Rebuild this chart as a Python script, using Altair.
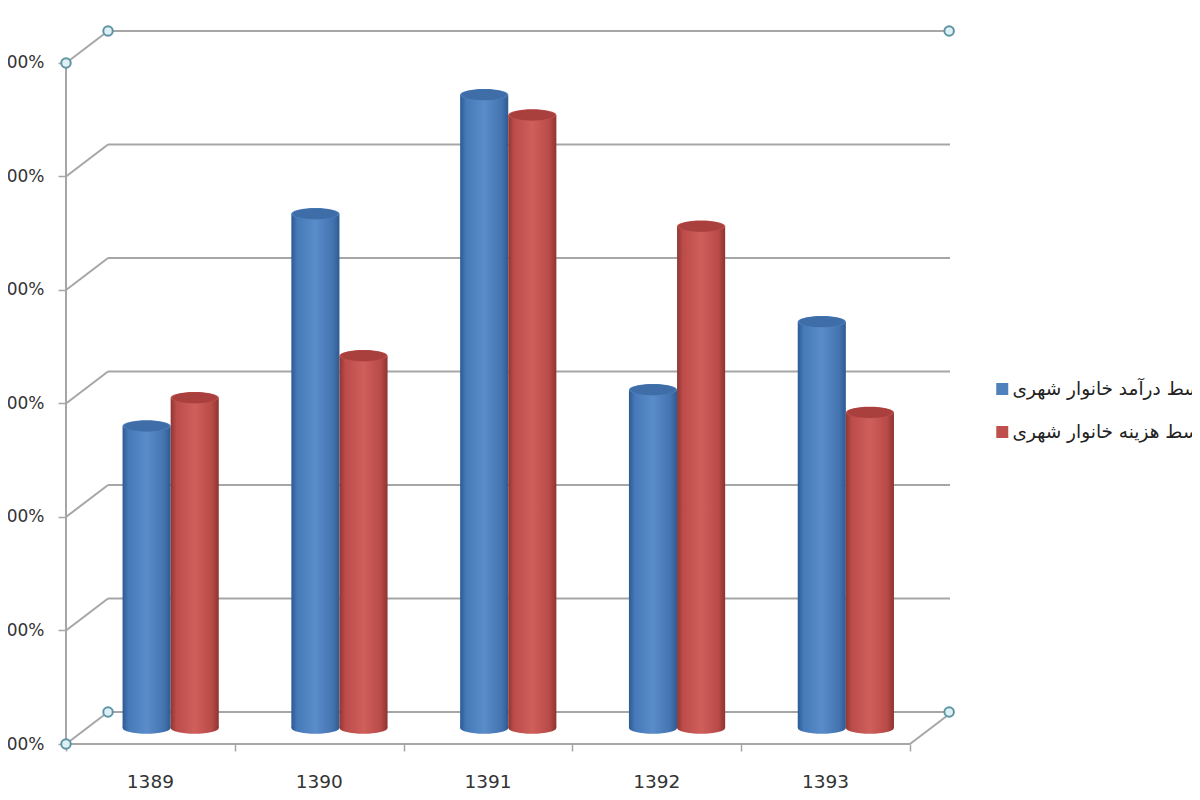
import altair as alt
import pandas as pd

years = ["1389", "1390", "1391", "1392", "1393"]
income = [2.66, 4.53, 5.58, 2.98, 3.58]
expense = [2.91, 3.28, 5.40, 4.42, 2.78]
series_names = ["متوسط درآمد خانوار شهری", "متوسط هزینه خانوار شهری"]
tick_label = ".00%"
grid_levels = [0, 1, 2, 3, 4, 5, 6]

DX, DY = 0.249, 0.282
XMAX, YMAX = 5.237, 6.273
BLUE, RED = "#4f81bd", "#c0504d"
LINE = "#a6a6a6"
FONT = "DejaVu Sans"

x_scale = alt.Scale(domain=[0, XMAX], nice=False, zero=False)
y_scale = alt.Scale(domain=[0, YMAX], nice=False, zero=False)
X = lambda f: alt.X(f, type="quantitative", scale=x_scale, title=None)
Y = lambda f: alt.Y(f, type="quantitative", scale=y_scale, title=None)

rows = []
for i, y in enumerate(years):
    for s, (vals, off) in enumerate(((income, 0.335), (expense, 0.62))):
        rows.append(dict(year=y, series=series_names[s], x0=i + off, x1=i + off + 0.285,
                         xc=i + off + 0.1425, y0=DY / 2, y1=vals[i] + DY / 2))
df = pd.DataFrame(rows)


def grad(c0, c1, c2, c3, c4):
    return alt.Gradient(gradient="linear", x1=0, x2=1, y1=0, y2=0, stops=[
        alt.GradientStop(color=c0, offset=0),
        alt.GradientStop(color=c1, offset=0.12),
        alt.GradientStop(color=c2, offset=0.5),
        alt.GradientStop(color=c3, offset=0.86),
        alt.GradientStop(color=c4, offset=1)])


ELL = "M-1,0 A1,0.24,0,1,1,1,0 A1,0.24,0,1,1,-1,0 Z"
CAP_SIZE = 2304

layers = []

# back-wall gridlines and side diagonals
back = pd.DataFrame({"lvl": grid_levels})
back["a"] = DX
back["b"] = XMAX
back["yy"] = back["lvl"] + DY
layers.append(alt.Chart(back).mark_rule(color=LINE, strokeWidth=2).encode(
    x=X("a"), x2="b:Q", y=Y("yy")))
diag = pd.concat([
    pd.DataFrame({"lvl": grid_levels, "px": 0.0, "py": [float(v) for v in grid_levels]}),
    pd.DataFrame({"lvl": grid_levels, "px": DX, "py": [v + DY for v in grid_levels]})])
layers.append(alt.Chart(diag).mark_line(color=LINE, strokeWidth=2).encode(
    x=X("px"), y=Y("py"), detail="lvl:N"))
# walls
layers.append(alt.Chart(pd.DataFrame({"a": [0], "b": [6]})).mark_rule(color=LINE, strokeWidth=2).encode(
    x=alt.X("zero:Q", scale=x_scale, title=None,
            axis=alt.Axis(values=[0, 1, 2, 3, 4, 5], labels=False, domain=False, grid=False,
                          tickSize=7, tickColor=LINE, tickWidth=1.5)),
    y=alt.Y("a:Q", scale=y_scale, title=None,
            axis=alt.Axis(values=grid_levels, labelExpr=f"'{tick_label}'", domain=False, grid=False,
                          tickSize=8, tickColor=LINE, tickWidth=1.5, labelFont=FONT, labelFontSize=17,
                          labelColor="#333333", labelPadding=14)),
    y2="b:Q").transform_calculate(zero="0"))
layers.append(alt.Chart(pd.DataFrame({"a": [0], "b": [5], "c": [0]})).mark_rule(color=LINE, strokeWidth=2).encode(
    x=X("a"), x2="b:Q", y=Y("c")))
right = pd.DataFrame({"px": [5, 5 + DX], "py": [0, DY]})
layers.append(alt.Chart(right).mark_line(color=LINE, strokeWidth=2).encode(x=X("px"), y=Y("py")))

# handles
handles = pd.DataFrame({"px": [0, DX, XMAX - 0.005, XMAX - 0.005, DX, 0],
                        "py": [6, 6 + DY, 6 + DY, DY, DY, 0]})
layers.append(alt.Chart(handles).mark_point(filled=True, fill="#dcf0f5", stroke="#5e93a3", strokeWidth=2,
                                            size=90, opacity=1).encode(x=X("px"), y=Y("py")))

# category labels
labels = pd.DataFrame({"year": years, "px": [i + 0.5 for i in range(5)], "py": [0] * 5})
layers.append(alt.Chart(labels).mark_text(font=FONT, fontSize=18.5, color="#333333", dy=37.5).encode(
    x=X("px"), y=Y("py"), text="year:N"))

# cylinders
styles = {series_names[0]: (("#2c5a94", "#4679b8", "#5a8cca", "#4474b0", "#2f5a90"), "#3e6da8"),
          series_names[1]: (("#8f3633", "#bc4c49", "#cf5f5b", "#b84a47", "#8f3330"), "#a9403d")}
for name, (g, cap) in styles.items():
    d = df[df.series == name]
    layers.append(alt.Chart(d).mark_point(shape=ELL, filled=True, size=CAP_SIZE, opacity=1, fill=grad(*g),
                                          strokeWidth=0).encode(x=X("xc"), y=Y("y0")))
    layers.append(alt.Chart(d).mark_bar(color=grad(*g)).encode(
        x=X("x0"), x2="x1:Q", y=Y("y0"), y2="y1:Q"))

# caps carry the legend
layers.append(alt.Chart(df).mark_point(shape=ELL, filled=True, size=CAP_SIZE, opacity=1, strokeWidth=0).encode(
    x=X("xc"), y=Y("y1"),
    color=alt.Color("series:N", scale=alt.Scale(domain=series_names, range=[BLUE, RED]), title=None,
                    legend=alt.Legend(orient="none", legendX=927, legendY=348, symbolType="square",
                                      symbolSize=144, symbolStrokeWidth=0, rowPadding=24, labelFont=FONT,
                                      labelFontSize=18.5, labelColor="#222222", labelLimit=400, labelOffset=1,
                                      clipHeight=18))))
for name, (g, cap) in styles.items():
    d = df[df.series == name]
    layers.append(alt.Chart(d).mark_point(shape=ELL, filled=True, size=CAP_SIZE - 250, opacity=1, fill=cap,
                                          strokeWidth=0).encode(x=X("xc"), y=Y("y1")))

chart = alt.layer(*layers).properties(
    width=884, height=712,
    padding={"left": 58, "top": 24, "right": 242, "bottom": 44},
    autosize=alt.AutoSizeParams(type="none"),
    background="white",
).configure_view(stroke=None)

chart.save("out.html", embed_options={"renderer": "svg", "actions": False})
